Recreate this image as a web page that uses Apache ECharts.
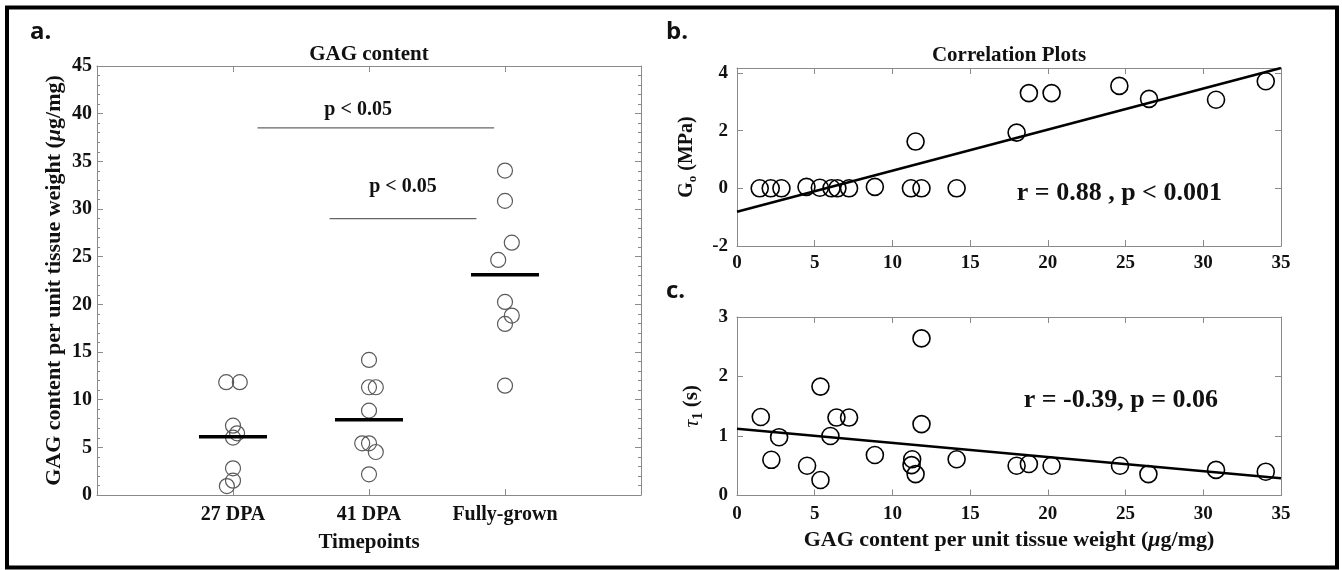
<!DOCTYPE html>
<html>
<head>
<meta charset="utf-8">
<script src="https://cdn.jsdelivr.net/npm/echarts@6/dist/echarts.min.js"></script>
<style>
html, body { margin: 0; padding: 0; background: #fff; }
#main { width: 1342px; height: 570px; }
</style>
</head>
<body>
<div id="main"></div>
<script>
// a. GAG content per timepoint
var timepoints = ['27 DPA', '41 DPA', 'Fully-grown'];
var gag27 = [11.83, 11.83, 7.27, 6.47, 6.02, 2.8, 1.5, 0.94];
var jit27 = [-0.05, 0.05, 0, 0.03, 0, 0, 0, -0.045];
var gag41 = [14.17, 11.3, 11.3, 8.85, 5.42, 5.42, 4.51, 2.17];
var jit41 = [0, 0, 0.05, 0, -0.05, 0, 0.05, 0];
var gagFull = [34.03, 30.85, 26.47, 24.66, 20.25, 18.82, 17.94, 11.47];
var jitFull = [0, 0, 0.05, -0.05, 0, 0.05, 0, 0];
var gagMeans = [6.1, 7.9, 23.1];
// [x from, x to, y]
var sigBars = [[1.18, 2.92, 38.5], [1.71, 2.79, 29.0]];
var sigText = [[1.92, 40.4], [2.25, 32.3]];

// b. G0 vs GAG
var g0X = [1.46, 2.17, 2.86, 4.47, 5.33, 6.08, 6.46, 7.21, 8.87, 11.19, 11.49, 11.87, 14.13, 17.99, 18.78, 20.24, 24.6, 26.51, 30.82, 34.02];
var g0Y = [0, 0, 0, 0.05, 0.02, 0, 0, 0, 0.05, 0, 1.62, 0, 0, 1.93, 3.3, 3.3, 3.55, 3.1, 3.07, 3.71];
var g0Fit = [[0, -0.81], [35, 4.17]];
var g0Note = [24.6, -0.16];

// c. tau1 vs GAG
var tauX = [1.53, 2.21, 2.71, 4.51, 5.37, 5.37, 6.01, 6.4, 7.21, 8.87, 11.27, 11.23, 11.49, 11.87, 11.87, 14.13, 17.99, 18.78, 20.24, 24.64, 26.47, 30.82, 34.02];
var tauY = [1.32, 0.6, 0.98, 0.5, 1.83, 0.26, 1.0, 1.31, 1.31, 0.68, 0.61, 0.51, 0.36, 2.64, 1.2, 0.61, 0.5, 0.53, 0.5, 0.5, 0.36, 0.43, 0.4];
var tauFit = [[0, 1.12], [35, 0.29]];
var tauNote = [24.7, 1.6];

var serif = "'Liberation Serif', 'Times New Roman', serif";
var txt = '#111';
var axisGray = '#8a8a8a';

function boxAxis(gi, pos, opt) {
    var a = {
        gridIndex: gi,
        type: 'value',
        position: pos,
        axisLine: { onZero: false, lineStyle: { color: axisGray, width: 1 } },
        axisTick: { inside: true, length: 6, lineStyle: { color: axisGray } },
        splitLine: { show: false },
        axisLabel: { show: false }
    };
    for (var k in opt) a[k] = opt[k];
    return a;
}

function tickLabel(size, margin, fmt) {
    var l = { show: true, fontFamily: serif, fontWeight: 'bold', fontSize: size, color: txt, margin: margin };
    if (fmt) l.formatter = fmt;
    return l;
}

// text placed at a data point (no symbol, no outline)
function noteLabel(text, size) {
    return {
        show: true, position: 'inside', formatter: text,
        fontFamily: serif, fontWeight: 'bold', fontSize: size, color: txt,
        textBorderWidth: 0, opacity: 1
    };
}

// scatter defaults to opacity 0.8, keep it solid
var hollow = function (c, w) {
    return { color: 'rgba(0,0,0,0)', borderColor: c, borderWidth: w, opacity: 1 };
};
var noMark = { color: 'rgba(0,0,0,0)', opacity: 1 };

// x/y axes, each grid gets a box (bottom+top, left+right)
var xAxes = [
    boxAxis(0, 'bottom', {
        min: 0, max: 4, interval: 1,
        axisLabel: tickLabel(20, 10, function (v) { return timepoints[v - 1] || ''; }),
        name: 'Timepoints', nameLocation: 'middle', nameGap: 37,
        nameTextStyle: { fontFamily: serif, fontWeight: 'bold', fontSize: 21, color: txt }
    }),
    boxAxis(0, 'top', { min: 0, max: 4, interval: 1 }),
    boxAxis(1, 'bottom', { min: 0, max: 35, interval: 5, axisLabel: tickLabel(19, 8) }),
    boxAxis(1, 'top', { min: 0, max: 35, interval: 5 }),
    boxAxis(2, 'bottom', {
        min: 0, max: 35, interval: 5, axisLabel: tickLabel(19, 9),
        name: 'GAG content per unit tissue weight ({mu|μ}g/mg)', nameLocation: 'middle', nameGap: 34,
        nameTextStyle: {
            fontFamily: serif, fontWeight: 'bold', fontSize: 22, color: txt,
            rich: { mu: { fontFamily: serif, fontWeight: 'bold', fontStyle: 'italic', fontSize: 22, color: txt } }
        }
    }),
    boxAxis(2, 'top', { min: 0, max: 35, interval: 5 })
];

var minor = { show: true, splitNumber: 5, length: 3, lineStyle: { color: axisGray } };
var yAxes = [
    boxAxis(0, 'left', {
        min: 0, max: 45, interval: 5, minorTick: minor,
        axisLabel: tickLabel(20, 5),
        name: 'GAG content per unit tissue weight ({mu|μ}g/mg)', nameLocation: 'middle', nameGap: 32,
        nameTextStyle: {
            fontFamily: serif, fontWeight: 'bold', fontSize: 22, color: txt,
            rich: { mu: { fontFamily: serif, fontWeight: 'bold', fontStyle: 'italic', fontSize: 22, color: txt } }
        }
    }),
    boxAxis(0, 'right', { min: 0, max: 45, interval: 5, minorTick: minor }),
    boxAxis(1, 'left', {
        min: -2, max: 4.17, interval: 2,
        axisLabel: (function () { var l = tickLabel(19, 9); l.showMaxLabel = false; return l; })(),
        name: '{g|G}{sub|o}{g| (MPa)}', nameLocation: 'middle', nameGap: 38,
        nameTextStyle: {
            rich: {
                g: { fontFamily: serif, fontWeight: 'bold', fontSize: 20, color: txt, lineHeight: 24 },
                sub: { fontFamily: serif, fontWeight: 'bold', fontSize: 13, color: txt, lineHeight: 13, padding: [10, 0, 0, 0], verticalAlign: 'bottom' }
            }
        }
    }),
    boxAxis(1, 'right', { min: -2, max: 4.17, interval: 2 }),
    boxAxis(2, 'left', {
        min: 0, max: 3, interval: 1,
        axisLabel: tickLabel(19, 9),
        name: '{tau|τ}{sub|1}{g| (s)}', nameLocation: 'middle', nameGap: 32,
        nameTextStyle: {
            rich: {
                tau: { fontFamily: serif, fontStyle: 'italic', fontSize: 22, color: txt, lineHeight: 26 },
                g: { fontFamily: serif, fontWeight: 'bold', fontSize: 21, color: txt, lineHeight: 26 },
                sub: { fontFamily: serif, fontWeight: 'bold', fontSize: 14, color: txt, lineHeight: 14, padding: [11, 0, 0, 0], verticalAlign: 'bottom' }
            }
        }
    }),
    boxAxis(2, 'right', { min: 0, max: 3, interval: 1 })
];

// panel a points
var aPoints = [];
gag27.forEach(function (v, i) { aPoints.push([1 + jit27[i], v]); });
gag41.forEach(function (v, i) { aPoints.push([2 + jit41[i], v]); });
gagFull.forEach(function (v, i) { aPoints.push([3 + jitFull[i], v]); });

var series = [];
series.push({
    type: 'scatter', xAxisIndex: 0, yAxisIndex: 0, data: aPoints,
    symbol: 'circle', symbolSize: 15, itemStyle: hollow('#5a5a5a', 1.2)
});
gagMeans.forEach(function (m, i) {
    series.push({
        type: 'line', xAxisIndex: 0, yAxisIndex: 0, symbol: 'none',
        data: [[i + 1 - 0.25, m], [i + 1 + 0.25, m]],
        lineStyle: { color: '#000', width: 3.5 }
    });
});
sigBars.forEach(function (b) {
    series.push({
        type: 'line', xAxisIndex: 0, yAxisIndex: 0, symbol: 'none',
        data: [[b[0], b[2]], [b[1], b[2]]],
        lineStyle: { color: '#666', width: 1.2 }
    });
});
series.push({
    type: 'scatter', xAxisIndex: 0, yAxisIndex: 0, data: sigText, symbolSize: 0,
    itemStyle: noMark,
    label: noteLabel('p < 0.05', 20)
});

// panel b
series.push({
    type: 'scatter', xAxisIndex: 2, yAxisIndex: 2,
    data: g0X.map(function (x, i) { return [x, g0Y[i]]; }),
    symbol: 'circle', symbolSize: 17, itemStyle: hollow('#000', 1.6)
});
series.push({
    type: 'line', xAxisIndex: 2, yAxisIndex: 2, symbol: 'none', data: g0Fit,
    lineStyle: { color: '#000', width: 2.5 }
});
series.push({
    type: 'scatter', xAxisIndex: 2, yAxisIndex: 2, data: [g0Note], symbolSize: 0,
    itemStyle: noMark,
    label: noteLabel('r = 0.88 , p < 0.001', 26)
});

// panel c
series.push({
    type: 'scatter', xAxisIndex: 4, yAxisIndex: 4,
    data: tauX.map(function (x, i) { return [x, tauY[i]]; }),
    symbol: 'circle', symbolSize: 17, itemStyle: hollow('#000', 1.6)
});
series.push({
    type: 'line', xAxisIndex: 4, yAxisIndex: 4, symbol: 'none', data: tauFit,
    lineStyle: { color: '#000', width: 2.5 }
});
series.push({
    type: 'scatter', xAxisIndex: 4, yAxisIndex: 4, data: [tauNote], symbolSize: 0,
    itemStyle: noMark,
    label: noteLabel('r = -0.39, p = 0.06', 26)
});

var panelLabel = { fontFamily: "'Open Sans', 'Liberation Sans', sans-serif", fontWeight: 'bold', fontSize: 24, color: '#111' };
var titleStyle = { fontFamily: serif, fontWeight: 'bold', fontSize: 21, color: txt };

var option = {
    animation: false,
    backgroundColor: '#fff',
    title: [
        { text: 'a.', left: 30, top: 20, padding: 0, textStyle: panelLabel },
        { text: 'b.', left: 666, top: 20, padding: 0, textStyle: panelLabel },
        { text: 'c.', left: 666, top: 279, padding: 0, textStyle: panelLabel },
        { text: 'GAG content', left: 369, top: 44, padding: 0, textAlign: 'center', textStyle: titleStyle },
        { text: 'Correlation Plots', left: 1009, top: 45, padding: 0, textAlign: 'center', textStyle: titleStyle }
    ],
    grid: [
        { left: 97, top: 66, right: 701, bottom: 75 },
        { left: 737, top: 68, right: 61, bottom: 324 },
        { left: 737, top: 317, right: 61, bottom: 74.5 }
    ],
    xAxis: xAxes,
    yAxis: yAxes,
    series: series,
    graphic: [{
        type: 'rect', silent: true, z: 100,
        shape: { x: 7, y: 7.5, width: 1330, height: 560 },
        style: { fill: 'none', stroke: '#000', lineWidth: 4 }
    }]
};

var myChart = echarts.init(document.getElementById('main'));
myChart.setOption(option);
</script>
</body>
</html>
